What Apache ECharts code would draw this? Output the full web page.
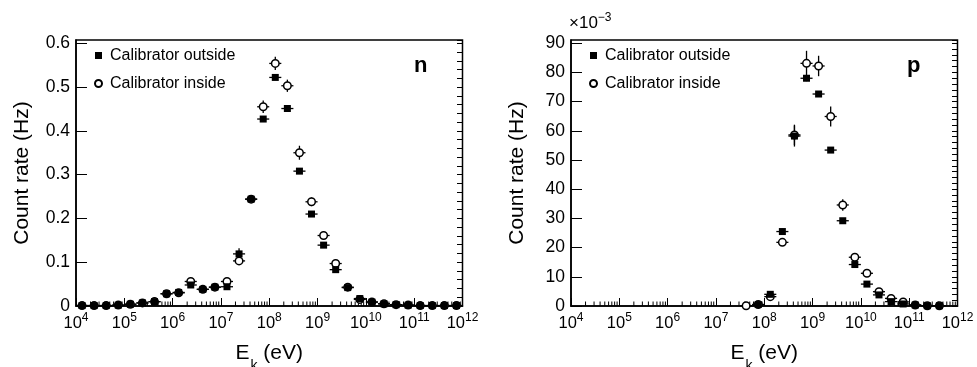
<!DOCTYPE html>
<html>
<head>
<meta charset="utf-8">
<script src="https://cdn.jsdelivr.net/npm/echarts@6/dist/echarts.min.js"></script>
<style>html,body{margin:0;padding:0;background:#fff}#c{width:977px;height:367px}</style>
</head>
<body>
<div id="c"></div>
<script>
// ---------------- data ----------------
const seriesNames = ['Calibrator outside', 'Calibrator inside'];
const panelLabels = ['n', 'p'];

// bin centres as log10(E_k / eV); bins are 0.25 decades wide
const binHalfWidthDecades = 0.125;

const nBinExp = [4.125,4.375,4.625,4.875,5.125,5.375,5.625,5.875,6.125,6.375,6.625,6.875,7.125,7.375,7.625,7.875,8.125,8.375,8.625,8.875,9.125,9.375,9.625,9.875,10.125,10.375,10.625,10.875,11.125,11.375,11.625,11.875];
const nOutside = [0.001,0.001,0.001,0.002,0.004,0.007,0.010,0.028,0.031,0.048,0.038,0.043,0.044,0.119,0.244,0.427,0.522,0.451,0.308,0.210,0.139,0.083,0.042,0.017,0.009,0.005,0.003,0.002,0.001,0.001,0.001,0.001];
const nOutsideErr = [0.001,0.001,0.001,0.001,0.001,0.002,0.002,0.003,0.003,0.004,0.003,0.003,0.004,0.013,0.008,0.006,0.005,0.005,0.005,0.004,0.004,0.003,0.003,0.002,0.002,0.001,0.001,0.001,0.001,0.001,0.001,0.001];
const nInside = [0.001,0.001,0.001,0.002,0.004,0.007,0.010,0.028,0.030,0.056,0.038,0.043,0.056,0.103,0.244,0.455,0.554,0.503,0.350,0.238,0.161,0.097,0.043,0.015,0.009,0.005,0.003,0.002,0.001,0.001,0.001,0.001];
const nInsideErr = [0.001,0.001,0.001,0.001,0.001,0.002,0.002,0.003,0.003,0.005,0.003,0.003,0.005,0.008,0.008,0.0145,0.015,0.014,0.016,0.010,0.008,0.007,0.005,0.003,0.002,0.001,0.001,0.001,0.001,0.001,0.001,0.001];

// proton panel values in units of 1e-3 Hz
const pBinExp = [7.625,7.875,8.125,8.375,8.625,8.875,9.125,9.375,9.625,9.875,10.125,10.375,10.625,10.875,11.125,11.375,11.625];
const pOutside = [null,0.5,4.0,25.5,58.2,78.0,72.6,53.4,29.2,14.2,7.5,3.8,1.5,0.7,0.35,0.1,0.1];
const pOutsideErr = [null,0.3,0.8,1.0,3.6,1.0,1.0,1.0,0.8,0.8,0.6,0.5,0.4,0.3,0.2,0.1,0.1];
const pInside = [0.1,0.5,3.2,21.8,58.6,83.1,82.2,64.9,34.6,16.7,11.2,4.9,2.6,1.4,0.35,0.1,0.1];
const pInsideErr = [0.1,0.3,0.8,1.2,3.5,4.3,3.5,3.4,2.0,1.3,1.0,0.8,0.6,0.5,0.2,0.1,0.1];

// axes
const xMinExp = 4, xMaxExp = 12;
const decadeExps = [4,5,6,7,8,9,10,11];
const minorMultipliers = [2,3,4,5,6,7,8,9];
const nYMax = 0.6075, nYInterval = 0.1, nYMinorInterval = 0.02;
const pYMax = 91.1, pYInterval = 10, pYMinorInterval = 2;
const pScaleText = ['×10', '−3'];
const yTitle = 'Count rate (Hz)';
const xTitle = ['E', 'k', ' (eV)'];

// ---------------- chart ----------------
const FONT = '"Liberation Sans", Arial, Helvetica, sans-serif';
const BLACK = '#000';

function pts(exps, vals) {
  const out = [];
  exps.forEach((e, i) => { if (vals[i] != null) out.push([Math.pow(10, e), vals[i]]); });
  return out;
}
function errPts(exps, vals, errs) {
  const out = [];
  exps.forEach((e, i) => { if (vals[i] != null) out.push([Math.pow(10, e), vals[i], errs[i]]); });
  return out;
}
const minorTickData = [];
decadeExps.forEach(d => minorMultipliers.forEach(m => minorTickData.push([m * Math.pow(10, d), 0])));

function renderErr(params, api) {
  const x = api.value(0), v = api.value(1), err = api.value(2);
  const f = Math.pow(10, binHalfWidthDecades);
  const L = api.coord([x / f, v]), R = api.coord([x * f, v]);
  const T = api.coord([x, v + err]), B = api.coord([x, Math.max(v - err, 0)]);
  const st = { stroke: BLACK, lineWidth: 1.3 };
  return { type: 'group', children: [
    { type: 'line', shape: { x1: L[0], y1: L[1], x2: R[0], y2: R[1] }, style: st },
    { type: 'line', shape: { x1: T[0], y1: T[1], x2: B[0], y2: B[1] }, style: st }
  ]};
}
function renderMinorTick(params, api) {
  const p = api.coord([api.value(0), api.value(1)]);
  return { type: 'line', shape: { x1: p[0], y1: p[1], x2: p[0], y2: p[1] - 4.5 }, style: { stroke: BLACK, lineWidth: 1 } };
}

const grids = [
  { left: 76, right: 514.5, top: 40, bottom: 61 },
  { left: 571, right: 19.5, top: 40, bottom: 61 }
];

function xAxisFor(gi) {
  return {
    type: 'log', logBase: 10, gridIndex: gi,
    min: Math.pow(10, xMinExp), max: Math.pow(10, xMaxExp), splitNumber: 8,
    name: '{a|' + xTitle[0] + '}{k|' + xTitle[1] + '}{a|' + xTitle[2] + '}',
    nameLocation: 'middle', nameGap: 37,
    nameTextStyle: { rich: {
      a: { fontFamily: FONT, fontSize: 21, lineHeight: 21, color: BLACK, verticalAlign: 'top' },
      k: { fontFamily: FONT, fontSize: 14, lineHeight: 14, color: BLACK, verticalAlign: 'top', padding: [16, 0, 0, 1] }
    }},
    axisLine: { show: true, lineStyle: { color: BLACK, width: 1.5 } },
    axisTick: { show: true, inside: true, length: 8, lineStyle: { color: BLACK, width: 1 } },
    minorTick: { show: false },
    splitLine: { show: false },
    axisLabel: {
      margin: 9,
      formatter: v => '{b|10}{s|' + Math.round(Math.log10(v)) + '}',
      rich: {
        b: { fontFamily: FONT, fontSize: 16.5, lineHeight: 16.5, color: BLACK, verticalAlign: 'bottom' },
        s: { fontFamily: FONT, fontSize: 12, lineHeight: 12, color: BLACK, verticalAlign: 'bottom', padding: [0, 0, 8, 0] }
      }
    }
  };
}
function yAxisMajor(gi, max, interval) {
  return {
    type: 'value', gridIndex: gi, min: 0, max: max, interval: interval,
    name: yTitle, nameLocation: 'middle', nameGap: 43,
    nameTextStyle: { fontFamily: FONT, fontSize: 21, color: BLACK },
    axisLine: { show: true, lineStyle: { color: BLACK, width: 1.5 } },
    axisTick: { show: true, inside: true, length: 11, lineStyle: { color: BLACK, width: 1 } },
    splitLine: { show: false },
    axisLabel: { margin: 6, showMaxLabel: false, fontFamily: FONT, fontSize: 17.5, color: BLACK }
  };
}
function yAxisMinor(gi, max, interval) {
  return {
    type: 'value', gridIndex: gi, min: 0, max: max, interval: interval,
    axisLine: { show: false },
    axisTick: { show: true, inside: true, length: 5.5, lineStyle: { color: BLACK, width: 1 } },
    splitLine: { show: false },
    axisLabel: { show: false }
  };
}

function panelSeries(gi, exps, out, outErr, inn, innErr) {
  const xi = gi, yi = gi * 2;
  return [
    { type: 'custom', name: 'minorTicks' + gi, xAxisIndex: xi, yAxisIndex: yi, data: minorTickData, renderItem: renderMinorTick, silent: true, z: 1 },
    { type: 'custom', name: 'errOut' + gi, xAxisIndex: xi, yAxisIndex: yi, data: errPts(exps, out, outErr), renderItem: renderErr, silent: true, z: 2 },
    { type: 'custom', name: 'errIn' + gi, xAxisIndex: xi, yAxisIndex: yi, data: errPts(exps, inn, innErr), renderItem: renderErr, silent: true, z: 2 },
    { type: 'scatter', name: seriesNames[1], xAxisIndex: xi, yAxisIndex: yi, data: pts(exps, inn),
      symbol: 'circle', symbolSize: 7.5, itemStyle: { color: '#fff', borderColor: BLACK, borderWidth: 1.5, opacity: 1 }, z: 3 },
    { type: 'scatter', name: seriesNames[0], xAxisIndex: xi, yAxisIndex: yi, data: pts(exps, out),
      symbol: 'rect', symbolSize: 7, itemStyle: { color: BLACK, opacity: 1 }, z: 4 }
  ];
}

function legendFor(left) {
  return {
    data: seriesNames.slice(), orient: 'vertical', left: left, top: 47.5, padding: 0,
    itemWidth: 7, itemHeight: 7, itemGap: 12, selectedMode: false,
    textStyle: { fontFamily: FONT, fontSize: 16, color: BLACK, padding: [0, 0, 0, 3] }
  };
}

const option = {
  animation: false,
  backgroundColor: '#fff',
  grid: grids.map(g => Object.assign({ show: true, borderColor: BLACK, borderWidth: 1.5, backgroundColor: 'transparent', outerBoundsMode: 'none', containLabel: false }, g)),
  title: [
    { text: panelLabels[0], left: 414, top: 55, padding: 0, textStyle: { fontFamily: FONT, fontSize: 22, fontWeight: 'bold', color: BLACK } },
    { text: panelLabels[1], left: 907, top: 55, padding: 0, textStyle: { fontFamily: FONT, fontSize: 22, fontWeight: 'bold', color: BLACK } },
    { text: '{a|' + pScaleText[0] + '}{b|' + pScaleText[1] + '}', left: 569, top: 15, padding: 0,
      textStyle: { fontWeight: 'normal', rich: {
        a: { fontFamily: FONT, fontSize: 17, lineHeight: 17, fontWeight: 'normal', color: BLACK, verticalAlign: 'bottom' },
        b: { fontFamily: FONT, fontSize: 12, lineHeight: 12, fontWeight: 'normal', color: BLACK, verticalAlign: 'bottom', padding: [0, 0, 8, 0] }
      }}}
  ],
  legend: [legendFor(94), legendFor(589)],
  xAxis: [xAxisFor(0), xAxisFor(1)],
  yAxis: [
    yAxisMajor(0, nYMax, nYInterval), yAxisMinor(0, nYMax, nYMinorInterval),
    yAxisMajor(1, pYMax, pYInterval), yAxisMinor(1, pYMax, pYMinorInterval)
  ],
  series: [].concat(
    panelSeries(0, nBinExp, nOutside, nOutsideErr, nInside, nInsideErr),
    panelSeries(1, pBinExp, pOutside, pOutsideErr, pInside, pInsideErr)
  )
};

const chart = echarts.init(document.getElementById('c'), null, { renderer: 'canvas' });
chart.setOption(option);
</script>
</body>
</html>
